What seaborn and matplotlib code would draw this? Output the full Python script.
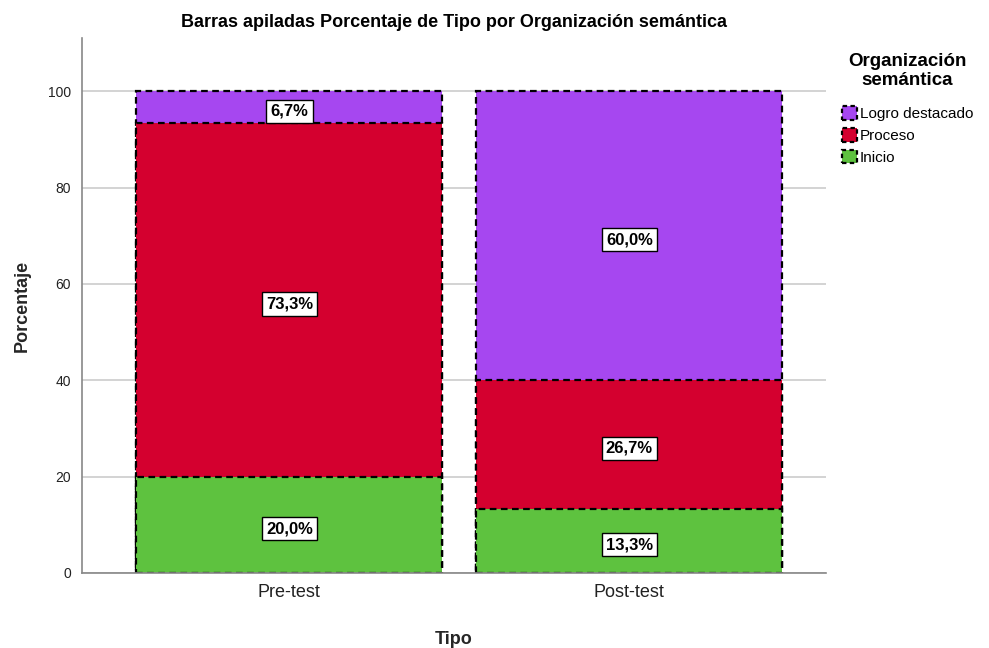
import numpy as np
import pandas as pd
import seaborn as sns
import matplotlib.pyplot as plt
from matplotlib.patches import Patch

# Data
tipos = ["Pre-test", "Post-test"]
inicio = [20.0, 13.3]
proceso = [73.3, 26.7]
logro = [6.7, 60.0]
niveles = ["Inicio", "Proceso", "Logro destacado"]
colores = {"Inicio": "#5EC23F", "Proceso": "#D4002F", "Logro destacado": "#A647F0"}

df = pd.DataFrame({"Tipo": tipos, "Inicio": inicio, "Proceso": proceso, "Logro destacado": logro})
cum = df[niveles].cumsum(axis=1)
cum["Tipo"] = df["Tipo"]

sns.set_style("white")
plt.rcParams["font.family"] = ["Liberation Sans", "DejaVu Sans"]
plt.rcParams["text.color"] = "black"

fig = plt.figure(figsize=(9.89, 6.48), dpi=100)
ax = fig.add_axes([0.083, 0.116, 0.752, 0.825])

# stacked bars: draw cumulative totals from the top level down
for nivel in reversed(niveles):
    sns.barplot(data=cum, x="Tipo", y=nivel, order=tipos, color=colores[nivel],
                width=0.9, edgecolor="black", linewidth=1.6, linestyle=(0, (3, 2)),
                saturation=1, ax=ax, zorder=2)

# labels in the middle of each segment
for i, t in enumerate(tipos):
    base = 0
    for nivel in niveles:
        v = df.loc[i, nivel]
        ax.text(i, base + v / 2 - 0.5, f"{v:.1f}%".replace(".", ","), ha="center", va="center_baseline",
                fontsize=12, fontweight="bold", zorder=5,
                bbox=dict(boxstyle="square,pad=0.25", fc="white", ec="black", lw=1))
        base += v

ax.set_ylim(0, 111)
ax.set_xlim(-0.61, 1.578)
ax.set_yticks([0, 20, 40, 60, 80, 100])
ax.yaxis.grid(True, color="#cccccc", linewidth=1.2, zorder=0)
ax.set_axisbelow(True)
for s in ["top", "right"]:
    ax.spines[s].set_visible(False)
for s in ["left", "bottom"]:
    ax.spines[s].set_color("#888888")
    ax.spines[s].set_linewidth(1.2)
ax.tick_params(axis="y", labelsize=10, length=0, pad=8, colors="#222222")
ax.tick_params(axis="x", labelsize=13, length=0, pad=8, colors="#222222")
ax.set_xlabel("Tipo", fontsize=13, fontweight="bold", labelpad=22)
ax.set_ylabel("Porcentaje", fontsize=13, fontweight="bold", labelpad=12)
ax.set_title("Barras apiladas Porcentaje de Tipo por Organización semántica",
             fontsize=13, fontweight="bold", pad=8)

handles = [Patch(facecolor=colores[n], edgecolor="black", linewidth=1.6, linestyle=(0, (2, 1.5)))
           for n in reversed(niveles)]
leg = fig.legend(handles, list(reversed(niveles)), title="Organización\nsemántica",
                 loc="upper left", bbox_to_anchor=(0.837, 0.94), frameon=False,
                 fontsize=11, title_fontproperties={"weight": "bold", "size": 13.5},
                 handlelength=1.0, handleheight=1.0, handletextpad=0.2, labelspacing=0.45)
leg.get_title().set_multialignment("center")
leg._legend_box.sep = 12

fig.savefig("out.png", dpi=100)
